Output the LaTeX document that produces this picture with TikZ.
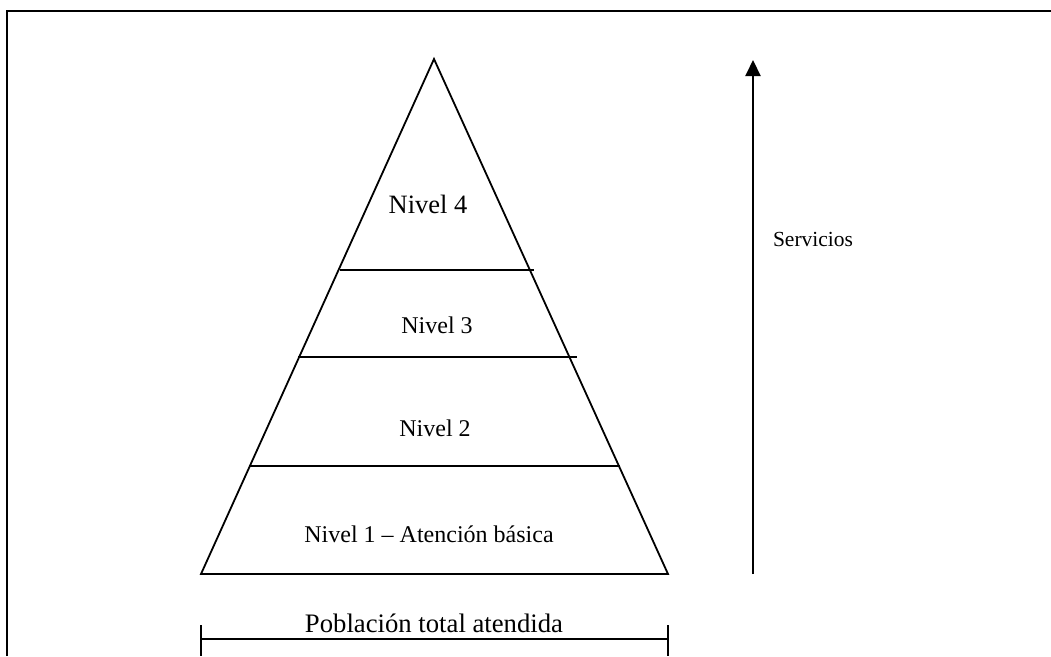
\documentclass[tikz,border=0pt]{standalone}
\usepackage{fontspec}
\setmainfont{Liberation Serif}
\usetikzlibrary{arrows.meta}
\begin{document}
\begin{tikzpicture}[x=1pt,y=-1pt,
  ln/.style={line width=2pt,line cap=rect},
  lbl/.style={anchor=base,inner sep=0pt,font=\fontsize{24}{28}\selectfont}]
\useasboundingbox (0,0) rectangle (1051,656);
% frame
\draw[line width=2pt] (7,656) -- (7,11) -- (1051,11);
% pyramid
\coordinate (apex) at (434,59);
\coordinate (bl) at (201,574);
\coordinate (br) at (668,574);
\draw[line width=1.8pt,line join=miter] (bl) -- (apex) -- (br) -- cycle;
\draw[ln] (341,270) -- (533,270);
\draw[ln] (299,357) -- (576,357);
\draw[ln] (250,466) -- (619,466);
% labels
\node[lbl,font=\fontsize{26.5}{30}\selectfont] (n4) at (428,213) {Nivel 4};
\node[lbl] (n3) at (437,333) {Nivel 3};
\node[lbl] (n2) at (435,436) {Nivel 2};
\node[lbl] (n1) at (429,542) {Nivel 1 – Atención básica};
% arrow
\coordinate (as) at (753,574);
\coordinate (ae) at (753,60);
\draw[line width=2pt,-{Triangle[length=16pt,width=15pt]}] (as) -- (ae);
\node[lbl,font=\fontsize{21.5}{25}\selectfont] (serv) at (813,246) {Servicios};
% bracket
\coordinate (b1t) at (201,625);
\coordinate (b1b) at (201,656);
\coordinate (b2t) at (668,625);
\coordinate (b2b) at (668,656);
\draw[ln,line cap=butt] (b1t) -- (b1b);
\draw[ln,line cap=butt] (b2t) -- (b2b);
\draw[ln,line cap=butt] (201,639) -- (668,639);
\node[lbl,font=\fontsize{26.7}{30}\selectfont] (pob) at (434,632) {Población total atendida};
\end{tikzpicture}
\end{document}
